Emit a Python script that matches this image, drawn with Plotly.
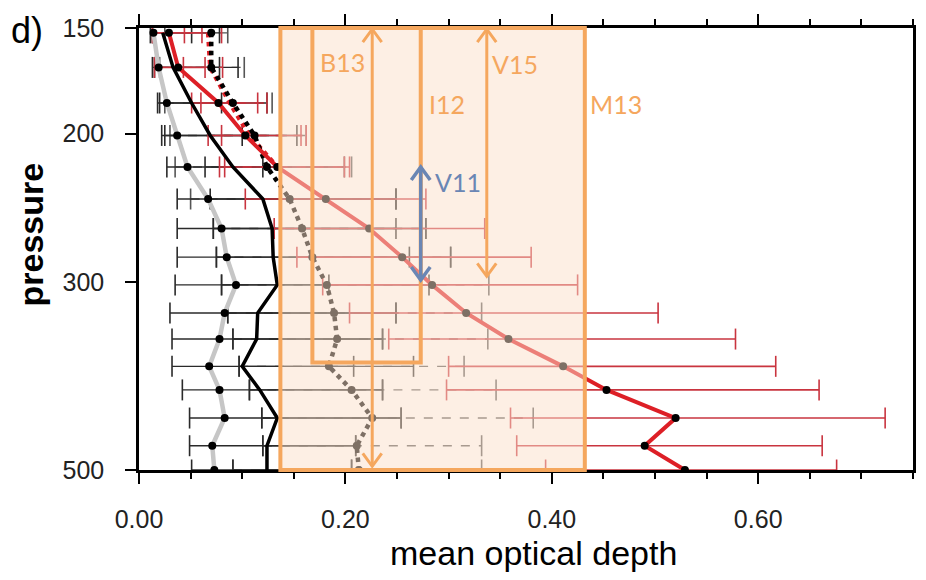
import numpy as np
import plotly.graph_objects as go

# ---------------- data ----------------
pressure = [152, 167, 184, 201, 219, 239, 259, 280, 302, 326, 350, 377, 402, 434, 468, 500]

grey_mean  = [0.014, 0.019, 0.027, 0.037, 0.047, 0.067, 0.080, 0.085, 0.094, 0.083, 0.078, 0.068, 0.078, 0.083, 0.071, 0.073]
black_mean = [0.023, 0.033, 0.051, 0.069, 0.091, 0.120, 0.129, 0.130, 0.134, 0.115, 0.114, 0.100, 0.117, 0.134, 0.124, 0.124]
bdot_mean  = [0.070, 0.070, 0.091, 0.112, 0.124, 0.146, 0.158, 0.168, 0.182, 0.189, 0.192, 0.184, 0.206, 0.226, 0.211, 0.213]
red_mean   = [0.029, 0.038, 0.077, 0.103, 0.134, 0.181, 0.223, 0.255, 0.284, 0.317, 0.358, 0.411, 0.453, 0.520, 0.490, 0.529]
rdot_pressure = [152, 167, 184, 201, 219]
rdot_mean  = [0.067, 0.069, 0.088, 0.107, 0.134]

grey_lo  = [0.011, 0.013, 0.018, 0.022, 0.027, 0.037, 0.037, 0.037, 0.035, 0.030, 0.032, 0.032, 0.042, 0.049, 0.049, 0.051]
grey_hi  = [0.051, 0.078, 0.080, 0.100, 0.120, 0.249, 0.249, 0.262, 0.184, 0.249, 0.236, 0.208, 0.236, 0.254, 0.210, 0.206]
black_lo = [0.013, 0.015, 0.020, 0.025, 0.064, 0.069, 0.072, 0.075, 0.080, 0.086, 0.091, 0.097, 0.107, 0.119, 0.120, 0.091]
black_hi = [0.078, 0.096, 0.124, 0.153, 0.199, 0.249, 0.278, 0.302, 0.281, 0.249, 0.236, 0.266, 0.236, 0.254, 0.210, 0.206]
bdot_lo  = [0.025, 0.020, 0.025, 0.030, 0.035, 0.050, 0.072, 0.075, 0.080, 0.086, 0.091, 0.097, 0.107, 0.119, 0.120, 0.091]
bdot_hi  = [0.086, 0.102, 0.129, 0.162, 0.206, 0.249, 0.278, 0.302, 0.339, 0.332, 0.338, 0.315, 0.346, 0.382, 0.332, 0.332]
red_lo   = [0.013, 0.015, 0.051, 0.067, 0.078, 0.103, 0.131, 0.153, 0.178, 0.204, 0.242, 0.300, 0.298, 0.360, 0.366, 0.394]
red_hi   = [0.061, 0.064, 0.115, 0.157, 0.204, 0.278, 0.335, 0.380, 0.425, 0.503, 0.578, 0.617, 0.659, 0.723, 0.662, 0.676]
rdot_lo  = [0.044, 0.043, 0.060, 0.080, 0.083]
rdot_hi  = [0.080, 0.081, 0.124, 0.162, 0.199]

# literature ranges (x = optical depth, p = pressure)
M13_range = [0.137, 0.432]
B13_range = [0.168, 0.273]
B13_bottom_p = 373
B13_arrow_x = 0.226
V15_x, V15_p = 0.337, [150, 295]
V11_x, V11_p = 0.273, [219, 298]

x_tickvals = [0, 0.2, 0.4, 0.6]
x_ticktext = ["0.00", "0.20", "0.40", "0.60"]
y_tickvals = [150, 200, 300, 500]
y_ticktext = ["150", "200", "300", "500"]

P_TOP, P_BOT = 150, 500
X_MAX = 0.75

ORANGE = "#F5A75E"
BLUE = "#6A86B4"
RED = "#DD1F26"
RED_BAR = "#C9343F"
SANS = "Liberation Sans, Arial, sans-serif"
LAB = "Lato, Open Sans, sans-serif"

def frac(p):
    return (np.log10(P_BOT) - np.log10(p)) / (np.log10(P_BOT) - np.log10(P_TOP))

def segs(lo, hi, p):
    xs, ys = [], []
    for l, h, pp in zip(lo, hi, p):
        xs += [l, h, None]
        ys += [pp, pp, None]
    return xs, ys

fig = go.Figure()

def add_bars(lo, hi, p, color, width, dash="solid"):
    xs, ys = segs(lo, hi, p)
    fig.add_trace(go.Scatter(x=xs, y=ys, mode="lines",
                             line=dict(color=color, width=width, dash=dash),
                             hoverinfo="skip", showlegend=False))
    fig.add_trace(go.Scatter(x=list(lo) + list(hi), y=list(p) + list(p), mode="markers",
                             marker=dict(symbol="line-ns", size=15, color=color,
                                         line=dict(color=color, width=1.6)),
                             hoverinfo="skip", showlegend=False))

# error bars
add_bars(bdot_lo, bdot_hi, pressure, "#555555", 1.4, "dash")
add_bars(grey_lo, grey_hi, pressure, "#2a2a2a", 1.4)
add_bars(black_lo, black_hi, pressure, "#2a2a2a", 1.4)
add_bars(rdot_lo, rdot_hi, rdot_pressure, RED_BAR, 1.4, "dash")
add_bars(red_lo, red_hi, pressure, RED_BAR, 1.6)

# mean profiles
fig.add_trace(go.Scatter(x=grey_mean, y=pressure, mode="lines+markers",
                         line=dict(color="#C6C6C6", width=4.5),
                         marker=dict(color="black", size=8), showlegend=False))
fig.add_trace(go.Scatter(x=black_mean, y=pressure, mode="lines",
                         line=dict(color="black", width=3.5), showlegend=False))
fig.add_trace(go.Scatter(x=rdot_mean, y=rdot_pressure, mode="lines",
                         line=dict(color=RED, width=4.5, dash="dot"), showlegend=False))
fig.add_trace(go.Scatter(x=bdot_mean, y=pressure, mode="lines+markers",
                         line=dict(color="black", width=4.5, dash="dot"),
                         marker=dict(color="black", size=8), showlegend=False))
fig.add_trace(go.Scatter(x=red_mean, y=pressure, mode="lines+markers",
                         line=dict(color=RED, width=4),
                         marker=dict(color="black", size=8), showlegend=False))

shapes = []
# translucent overlay of M13 box (above data)
shapes.append(dict(type="rect", xref="x", yref="paper", x0=M13_range[0], x1=M13_range[1],
                   y0=0, y1=1, fillcolor="rgba(251,224,202,0.5)", line=dict(width=0), layer="above"))
# outlines
shapes.append(dict(type="rect", xref="x", yref="paper", x0=M13_range[0], x1=M13_range[1],
                   y0=0, y1=1, line=dict(color=ORANGE, width=4), layer="above"))
shapes.append(dict(type="rect", xref="x", yref="paper", x0=B13_range[0], x1=B13_range[1],
                   y0=frac(B13_bottom_p), y1=1, line=dict(color=ORANGE, width=4), layer="above"))

dxh = 9.5 / 1036.0
dyh = 13 / 442.0

def arrow(x, p0, p1, color, width):
    y0, y1 = frac(p0), frac(p1)   # y0 top (larger), y1 bottom
    shapes.append(dict(type="line", xref="x", yref="paper", x0=x, x1=x, y0=y0, y1=y1,
                       line=dict(color=color, width=width), layer="above"))
    shapes.append(dict(type="path", xref="x", yref="paper",
                       path=f"M {x-dxh},{y0-dyh} L {x},{y0} L {x+dxh},{y0-dyh}",
                       line=dict(color=color, width=width), layer="above"))
    shapes.append(dict(type="path", xref="x", yref="paper",
                       path=f"M {x-dxh},{y1+dyh} L {x},{y1} L {x+dxh},{y1+dyh}",
                       line=dict(color=color, width=width), layer="above"))

arrow(B13_arrow_x, 150.5, 495, ORANGE, 3)
arrow(V15_x, 150.5, V15_p[1], ORANGE, 3)
arrow(V11_x, V11_p[0], V11_p[1], BLUE, 3.5)

lab_font = dict(family=LAB, size=25, color=ORANGE)
annotations = [
    dict(text="B13", x=0.197, y=0.962, xref="x", yref="paper", showarrow=False, font=lab_font),
    dict(text="I12", x=0.298, y=0.866, xref="x", yref="paper", showarrow=False, font=lab_font),
    dict(text="V15", x=0.364, y=0.958, xref="x", yref="paper", showarrow=False, font=lab_font),
    dict(text="M13", x=0.462, y=0.866, xref="x", yref="paper", showarrow=False, font=lab_font),
    dict(text="V11", x=0.309, y=0.652, xref="x", yref="paper", showarrow=False,
         font=dict(family=LAB, size=25, color=BLUE)),
    dict(text="d)", x=-0.168, y=0.995, xref="paper", yref="paper", xanchor="left", yanchor="middle",
         showarrow=False, font=dict(family=SANS, size=36, color="black")),
    dict(text="<b>pressure</b>", x=-0.140, y=0.532, xref="paper", yref="paper", textangle=-90,
         xanchor="center", yanchor="middle",
         showarrow=False, font=dict(family=SANS, size=34, color="black")),
    dict(text="mean optical depth", x=0.510, y=-0.188, xref="paper", yref="paper",
         xanchor="center", yanchor="middle",
         showarrow=False, font=dict(family=SANS, size=34, color="black")),
]

fig.update_layout(
    width=926, height=580,
    margin=dict(l=139, r=10, t=28, b=110),
    paper_bgcolor="white", plot_bgcolor="white",
    shapes=shapes, annotations=annotations,
    showlegend=False,
)
fig.update_xaxes(range=[0, X_MAX], tickvals=x_tickvals, ticktext=x_ticktext,
                 ticks="outside", ticklen=11, tickwidth=2, tickcolor="black",
                 minor=dict(dtick=0.05, ticks="outside", ticklen=6, tickwidth=1.5, tickcolor="black", showgrid=False),
                 showline=True, linewidth=2.5, linecolor="black", mirror="ticks",
                 showgrid=False, zeroline=False, ticklabelstandoff=14,
                 tickfont=dict(family=SANS, size=25, color="#222"))
fig.update_yaxes(type="log", range=[np.log10(P_BOT), np.log10(P_TOP)],
                 tickvals=y_tickvals, ticktext=y_ticktext,
                 ticks="outside", ticklen=11, tickwidth=2, tickcolor="black",
                 showline=True, linewidth=2.5, linecolor="black", mirror=True,
                 showgrid=False, zeroline=False, ticklabelstandoff=16,
                 tickfont=dict(family=SANS, size=25, color="#222"))

fig.write_html("out.html")
